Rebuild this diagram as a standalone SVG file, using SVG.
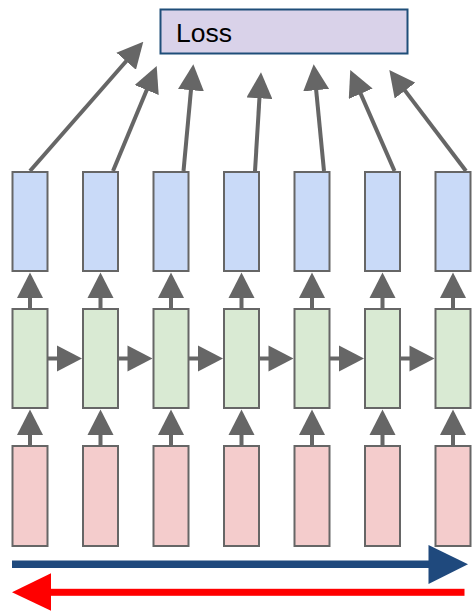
<svg xmlns="http://www.w3.org/2000/svg" width="472" height="611" viewBox="0 0 472 611">
<defs>
<style>
.box{stroke:#666666;stroke-width:2}
.out{fill:#c9daf8}
.hid{fill:#d9ead3}
.inp{fill:#f4cccc}
.ln{stroke:#666666;stroke-width:4;fill:none}
.hd{fill:#666666}
</style>
<marker id="ah" viewBox="0 0 10 10" refX="2.3" refY="5" markerWidth="6.5" markerHeight="6.5" markerUnits="strokeWidth" orient="auto">
<path d="M0,0 L10,5 L0,10 Z" fill="#666666"/>
</marker>
</defs>
<rect width="472" height="611" fill="#ffffff"/>
<g id="loss">
<rect x="160.5" y="9.5" width="247" height="44" fill="#d9d2e9" stroke="#1f4e79" stroke-width="2"/>
<text x="176" y="42" font-family="Liberation Sans, Arial, sans-serif" font-size="26.5" fill="#000000">Loss</text>
</g>
<g id="out1"><rect class="box out" x="12.5" y="172" width="35" height="99"/></g>
<g id="out2"><rect class="box out" x="83" y="172" width="35" height="99"/></g>
<g id="out3"><rect class="box out" x="153.5" y="172" width="35" height="99"/></g>
<g id="out4"><rect class="box out" x="224" y="172" width="35" height="99"/></g>
<g id="out5"><rect class="box out" x="294.5" y="172" width="35" height="99"/></g>
<g id="out6"><rect class="box out" x="365" y="172" width="35" height="99"/></g>
<g id="out7"><rect class="box out" x="435.5" y="172" width="35" height="99"/></g>
<g id="hid1"><rect class="box hid" x="12.5" y="309" width="35" height="99"/></g>
<g id="hid2"><rect class="box hid" x="83" y="309" width="35" height="99"/></g>
<g id="hid3"><rect class="box hid" x="153.5" y="309" width="35" height="99"/></g>
<g id="hid4"><rect class="box hid" x="224" y="309" width="35" height="99"/></g>
<g id="hid5"><rect class="box hid" x="294.5" y="309" width="35" height="99"/></g>
<g id="hid6"><rect class="box hid" x="365" y="309" width="35" height="99"/></g>
<g id="hid7"><rect class="box hid" x="435.5" y="309" width="35" height="99"/></g>
<g id="in1"><rect class="box inp" x="12.5" y="446" width="35" height="100"/></g>
<g id="in2"><rect class="box inp" x="83" y="446" width="35" height="100"/></g>
<g id="in3"><rect class="box inp" x="153.5" y="446" width="35" height="100"/></g>
<g id="in4"><rect class="box inp" x="224" y="446" width="35" height="100"/></g>
<g id="in5"><rect class="box inp" x="294.5" y="446" width="35" height="100"/></g>
<g id="in6"><rect class="box inp" x="365" y="446" width="35" height="100"/></g>
<g id="in7"><rect class="box inp" x="435.5" y="446" width="35" height="100"/></g>
<g id="connectors">
<g id="to-loss">
<line class="ln" x1="30" y1="171" x2="130.1" y2="56.7" marker-end="url(#ah)"/>
<line class="ln" x1="113" y1="171" x2="149" y2="84.5" marker-end="url(#ah)"/>
<line class="ln" x1="183.5" y1="171" x2="191.5" y2="84.2" marker-end="url(#ah)"/>
<line class="ln" x1="255" y1="171" x2="259.8" y2="92.3" marker-end="url(#ah)"/>
<line class="ln" x1="324" y1="171" x2="315.6" y2="84.2" marker-end="url(#ah)"/>
<line class="ln" x1="394.5" y1="171" x2="358.3" y2="88.3" marker-end="url(#ah)"/>
<line class="ln" x1="466" y1="171" x2="401.4" y2="85.9" marker-end="url(#ah)"/>
</g>
<g id="hid-to-out" class="hd">
<rect x="28" y="296" width="4" height="13"/><path d="M17,298 L43,298 L30,272.5 Z"/>
<rect x="98.5" y="296" width="4" height="13"/><path d="M87.5,298 L113.5,298 L100.5,272.5 Z"/>
<rect x="169" y="296" width="4" height="13"/><path d="M158,298 L184,298 L171,272.5 Z"/>
<rect x="239.5" y="296" width="4" height="13"/><path d="M228.5,298 L254.5,298 L241.5,272.5 Z"/>
<rect x="310" y="296" width="4" height="13"/><path d="M299,298 L325,298 L312,272.5 Z"/>
<rect x="380.5" y="296" width="4" height="13"/><path d="M369.5,298 L395.5,298 L382.5,272.5 Z"/>
<rect x="451" y="296" width="4" height="13"/><path d="M440,298 L466,298 L453,272.5 Z"/>
</g>
<g id="in-to-hid" class="hd">
<rect x="28" y="433" width="4" height="13"/><path d="M17,435 L43,435 L30,409.5 Z"/>
<rect x="98.5" y="433" width="4" height="13"/><path d="M87.5,435 L113.5,435 L100.5,409.5 Z"/>
<rect x="169" y="433" width="4" height="13"/><path d="M158,435 L184,435 L171,409.5 Z"/>
<rect x="239.5" y="433" width="4" height="13"/><path d="M228.5,435 L254.5,435 L241.5,409.5 Z"/>
<rect x="310" y="433" width="4" height="13"/><path d="M299,435 L325,435 L312,409.5 Z"/>
<rect x="380.5" y="433" width="4" height="13"/><path d="M369.5,435 L395.5,435 L382.5,409.5 Z"/>
<rect x="451" y="433" width="4" height="13"/><path d="M440,435 L466,435 L453,409.5 Z"/>
</g>
<g id="recurrent" class="hd">
<rect x="48" y="356.5" width="11" height="4"/><path d="M57,345.5 L57,371.5 L82,358.5 Z"/>
<rect x="118.5" y="356.5" width="11" height="4"/><path d="M127.5,345.5 L127.5,371.5 L152.5,358.5 Z"/>
<rect x="189" y="356.5" width="11" height="4"/><path d="M198,345.5 L198,371.5 L223,358.5 Z"/>
<rect x="259.5" y="356.5" width="11" height="4"/><path d="M268.5,345.5 L268.5,371.5 L293.5,358.5 Z"/>
<rect x="330" y="356.5" width="11" height="4"/><path d="M339,345.5 L339,371.5 L364,358.5 Z"/>
<rect x="400.5" y="356.5" width="11" height="4"/><path d="M409.5,345.5 L409.5,371.5 L434.5,358.5 Z"/>
</g>
<g id="forward">
<rect x="12" y="560.5" width="418" height="7.5" fill="#1f497d"/>
<path d="M428.5,545 L428.5,584 L468,564.3 Z" fill="#1f497d"/>
</g>
<g id="backward">
<rect x="50" y="588.8" width="414.5" height="7" fill="#ff0000"/>
<path d="M51,573.3 L51,610.7 L12,592.3 Z" fill="#ff0000"/>
</g>
</g>
</svg>
